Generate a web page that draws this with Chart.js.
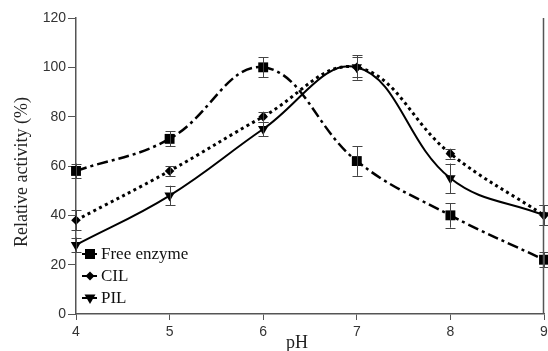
<!DOCTYPE html>
<html>
<head>
<meta charset="utf-8">
<script src="https://cdn.jsdelivr.net/npm/chart.js@4/dist/chart.umd.min.js"></script>
<style>
html,body{margin:0;padding:0;background:#fff;overflow:hidden;width:548px;height:351px;}
canvas{display:block;}
</style>
</head>
<body>
<canvas id="c" width="551" height="351"></canvas>
<script>
// ---- data ----
const pH = [4, 5, 6, 7, 8, 9];
const freeEnzyme = [58, 71, 100, 62, 40, 22];
const freeErr    = [3, 3, 4, 6, 5, 3];
const cil        = [38, 58, 80, 100, 65, 40];
const cilErr     = [4, 2, 2, 5, 2, 4];
const pil        = [28, 48, 75, 100, 55, 40];
const pilErr     = [3, 4, 3, 4, 6, 4];
const yTicks     = [0, 20, 40, 60, 80, 100, 120];
const seriesNames = ['Free enzyme', 'CIL', 'PIL'];
const xTitle = 'pH';
const yTitle = 'Relative activity (%)';

const toXY = (vals) => vals.map((v, i) => ({x: pH[i], y: v}));

const AXIS = '#555';
const SERIF = '"Liberation Serif", "Times New Roman", serif';
const SANS = '"Liberation Sans", Arial, sans-serif';

const errs = [freeErr, cilErr, pilErr];

const errorBars = {
  id: 'errorBars',
  afterDatasetsDraw(chart) {
    const ctx = chart.ctx, xs = chart.scales.x, ys = chart.scales.y;
    ctx.save();
    ctx.strokeStyle = '#444';
    ctx.lineWidth = 1;
    chart.data.datasets.forEach((ds, di) => {
      ds.data.forEach((p, i) => {
        const e = errs[di][i];
        const x = Math.round(xs.getPixelForValue(p.x)) + 0.5;
        const y1 = ys.getPixelForValue(p.y + e);
        const y2 = ys.getPixelForValue(p.y - e);
        ctx.beginPath();
        ctx.moveTo(x, y1); ctx.lineTo(x, y2);
        ctx.moveTo(x - 5, Math.round(y1) + 0.5); ctx.lineTo(x + 5, Math.round(y1) + 0.5);
        ctx.moveTo(x - 5, Math.round(y2) + 0.5); ctx.lineTo(x + 5, Math.round(y2) + 0.5);
        ctx.stroke();
      });
    });
    ctx.restore();
  }
};

function marker(ctx, kind, x, y) {
  ctx.beginPath();
  if (kind === 0) {
    ctx.rect(x - 5, y - 5, 10, 10);
  } else if (kind === 1) {
    ctx.moveTo(x - 4.5, y); ctx.lineTo(x, y - 4.5); ctx.lineTo(x + 4.5, y); ctx.lineTo(x, y + 4.5); ctx.closePath();
  } else {
    ctx.moveTo(x - 5.5, y - 3.5); ctx.lineTo(x + 5.5, y - 3.5); ctx.lineTo(x, y + 6); ctx.closePath();
  }
  ctx.fill();
}

const decor = {
  id: 'decor',
  afterDraw(chart) {
    const ctx = chart.ctx, a = chart.chartArea;
    ctx.save();
    // right border line
    ctx.strokeStyle = AXIS;
    ctx.lineWidth = 1.5;
    ctx.beginPath();
    ctx.moveTo(a.right - 0.5, a.top);
    ctx.lineTo(a.right - 0.5, a.bottom);
    ctx.stroke();
    // legend
    ctx.strokeStyle = '#000';
    ctx.font = '17px ' + SERIF;
    ctx.textBaseline = 'middle';
    ctx.textAlign = 'left';
    seriesNames.forEach((name, i) => {
      const y = 254 + i * 22;
      ctx.lineWidth = 2;
      ctx.beginPath();
      ctx.moveTo(82, y); ctx.lineTo(97, y);
      ctx.stroke();
      ctx.fillStyle = '#000';
      marker(ctx, i, 90, y);
      ctx.fillStyle = '#111';
      ctx.fillText(name, 101, y + 1);
    });
    // axis titles
    ctx.fillStyle = '#222';
    ctx.textAlign = 'center';
    ctx.font = '18px ' + SERIF;
    ctx.fillText(xTitle, 297, 343);
    ctx.translate(22, 172);
    ctx.rotate(-Math.PI / 2);
    ctx.fillText(yTitle, 0, 0);
    ctx.restore();
  }
};

new Chart(document.getElementById('c'), {
  type: 'scatter',
  data: {
    datasets: [
      {
        label: seriesNames[0], data: toXY(freeEnzyme), showLine: true,
        borderColor: '#000', backgroundColor: '#000', borderWidth: 2.5,
        borderDash: [11, 4, 3, 4], tension: 0.4,
        pointStyle: 'rect', pointRadius: 7, pointBorderWidth: 0
      },
      {
        label: seriesNames[1], data: toXY(cil), showLine: true,
        borderColor: '#000', backgroundColor: '#000', borderWidth: 3,
        borderDash: [3, 3.5], tension: 0.4,
        pointStyle: 'rectRot', pointRadius: 4.8, pointBorderWidth: 0
      },
      {
        label: seriesNames[2], data: toXY(pil), showLine: true,
        borderColor: '#000', backgroundColor: '#000', borderWidth: 2,
        tension: 0.4,
        pointStyle: 'triangle', pointRotation: 180, pointRadius: 6, pointBorderWidth: 0
      }
    ]
  },
  options: {
    responsive: false,
    animation: false,
    devicePixelRatio: 1,
    clip: false,
    layout: {padding: {top: 18, right: 0, left: 0, bottom: 0}},
    plugins: {legend: {display: false}, tooltip: {enabled: false}},
    scales: {
      x: {
        type: 'linear', min: 4, max: 9,
        afterFit(s) { s.height = 37; s.paddingLeft = 0; s.paddingRight = 0; },
        border: {color: AXIS, width: 1.5},
        grid: {drawOnChartArea: false, tickLength: 6, color: AXIS},
        ticks: {stepSize: 1, color: '#333', font: {family: SANS, size: 14}, padding: 4, maxRotation: 0}
      },
      y: {
        min: 0, max: 120,
        afterBuildTicks(s) { s.ticks = yTicks.map(v => ({value: v})); },
        afterFit(s) { s.width = 76; },
        border: {color: AXIS, width: 1.5},
        grid: {drawOnChartArea: false, tickLength: 8, color: AXIS},
        ticks: {color: '#333', font: {family: SANS, size: 14}, padding: 2}
      }
    }
  },
  plugins: [errorBars, decor]
});
</script>
</body>
</html>
